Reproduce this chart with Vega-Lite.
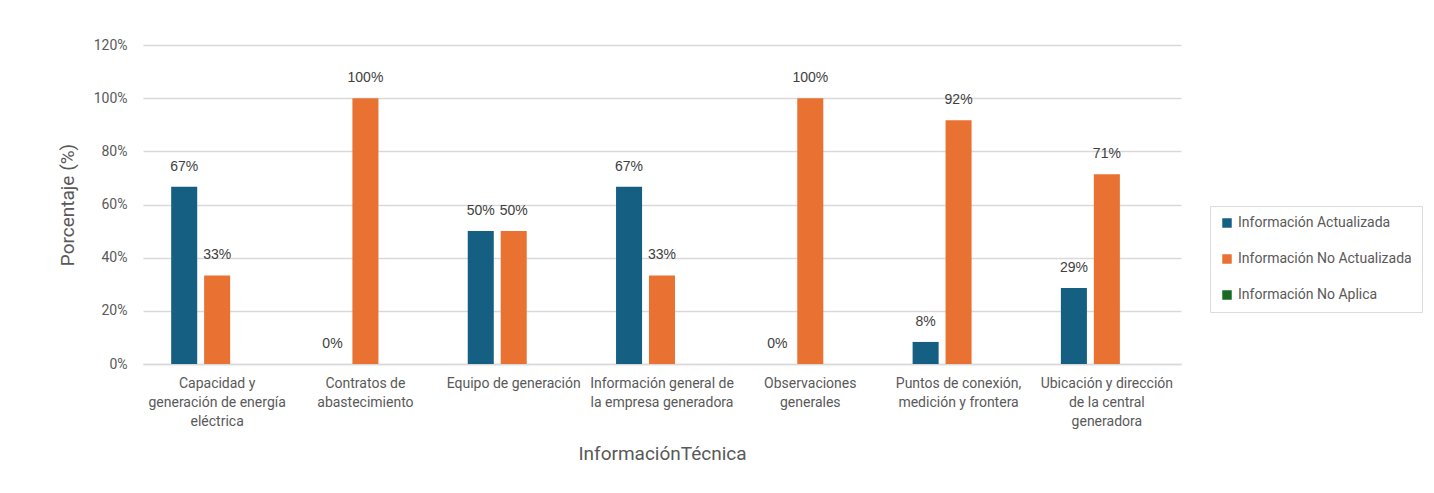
{
  "$schema": "https://vega.github.io/schema/vega-lite/v6.json",
  "autosize": {"type": "none"},
  "padding": {"left": 143, "top": 45, "right": 253, "bottom": 129},
  "width": 1038,
  "height": 319,
  "background": "white",
  "config": {
    "view": {"stroke": null},
    "font": "Roboto",
    "axis": {"labelColor": "#595959", "titleColor": "#595959", "labelFontSize": 14, "titleFontSize": 19, "titleFontWeight": "normal", "ticks": false}
  },
  "data": {
    "values": [
      {"categoria": "Capacidad y generación de energía eléctrica", "serie": "Información Actualizada", "valor": 0.667},
      {"categoria": "Capacidad y generación de energía eléctrica", "serie": "Información No Actualizada", "valor": 0.333},
      {"categoria": "Contratos de abastecimiento", "serie": "Información Actualizada", "valor": 0},
      {"categoria": "Contratos de abastecimiento", "serie": "Información No Actualizada", "valor": 1.0},
      {"categoria": "Equipo de generación", "serie": "Información Actualizada", "valor": 0.5},
      {"categoria": "Equipo de generación", "serie": "Información No Actualizada", "valor": 0.5},
      {"categoria": "Información general de la empresa generadora", "serie": "Información Actualizada", "valor": 0.667},
      {"categoria": "Información general de la empresa generadora", "serie": "Información No Actualizada", "valor": 0.333},
      {"categoria": "Observaciones generales", "serie": "Información Actualizada", "valor": 0},
      {"categoria": "Observaciones generales", "serie": "Información No Actualizada", "valor": 1.0},
      {"categoria": "Puntos de conexión, medición y frontera", "serie": "Información Actualizada", "valor": 0.083},
      {"categoria": "Puntos de conexión, medición y frontera", "serie": "Información No Actualizada", "valor": 0.917},
      {"categoria": "Ubicación y dirección de la central generadora", "serie": "Información Actualizada", "valor": 0.286},
      {"categoria": "Ubicación y dirección de la central generadora", "serie": "Información No Actualizada", "valor": 0.714}
    ]
  },
  "encoding": {
    "x": {
      "field": "categoria", "type": "nominal", "sort": null,
      "scale": {"paddingInner": 0.38, "paddingOuter": 0.19},
      "title": "InformaciónTécnica",
      "axis": {
        "labelAngle": 0, "labelPadding": 12, "labelLineHeight": 19, "labelLimit": 200,
        "domainColor": "#d9d9d9", "domainWidth": 1.5, "titlePadding": 16,
        "labelExpr": "datum.value == 'Capacidad y generación de energía eléctrica' ? ['Capacidad y', 'generación de energía', 'eléctrica'] : datum.value == 'Contratos de abastecimiento' ? ['Contratos de', 'abastecimiento'] : datum.value == 'Información general de la empresa generadora' ? ['Información general de', 'la empresa generadora'] : datum.value == 'Observaciones generales' ? ['Observaciones', 'generales'] : datum.value == 'Puntos de conexión, medición y frontera' ? ['Puntos de conexión,', 'medición y frontera'] : datum.value == 'Ubicación y dirección de la central generadora' ? ['Ubicación y dirección', 'de la central', 'generadora'] : datum.label"
      }
    },
    "xOffset": {
      "field": "serie", "type": "nominal",
      "scale": {"domain": ["Información Actualizada", "Información No Actualizada", "Información No Aplica"], "paddingInner": 0.21, "paddingOuter": 0}
    },
    "y": {
      "field": "valor", "type": "quantitative",
      "scale": {"domain": [0, 1.2]},
      "title": "Porcentaje (%)",
      "axis": {
        "values": [0, 0.2, 0.4, 0.6, 0.8, 1.0, 1.2], "format": ".0%",
        "domain": false, "gridColor": "#d9d9d9", "gridWidth": 1.5,
        "labelPadding": 16, "titlePadding": 16
      }
    }
  },
  "layer": [
    {
      "mark": {"type": "bar"},
      "encoding": {
        "color": {
          "field": "serie", "type": "nominal",
          "scale": {"domain": ["Información Actualizada", "Información No Actualizada", "Información No Aplica"], "range": ["#156082", "#E97132", "#196B24"]},
          "legend": {
            "title": null, "orient": "none", "legendX": 1067, "legendY": 161,
            "symbolType": "square", "symbolSize": 90, "symbolStrokeWidth": 0,
            "labelFontSize": 14, "labelColor": "#595959", "labelOffset": 4, "labelLimit": 400,
            "rowPadding": 22, "padding": 10,
            "fillColor": "white", "strokeColor": "#dcdcdc"
          }
        }
      }
    },
    {
      "mark": {"type": "text", "dy": -20, "baseline": "middle", "font": "Liberation Sans", "fontSize": 14, "color": "#404040"},
      "encoding": {
        "text": {"field": "valor", "type": "quantitative", "format": ".0%"}
      }
    }
  ]
}
